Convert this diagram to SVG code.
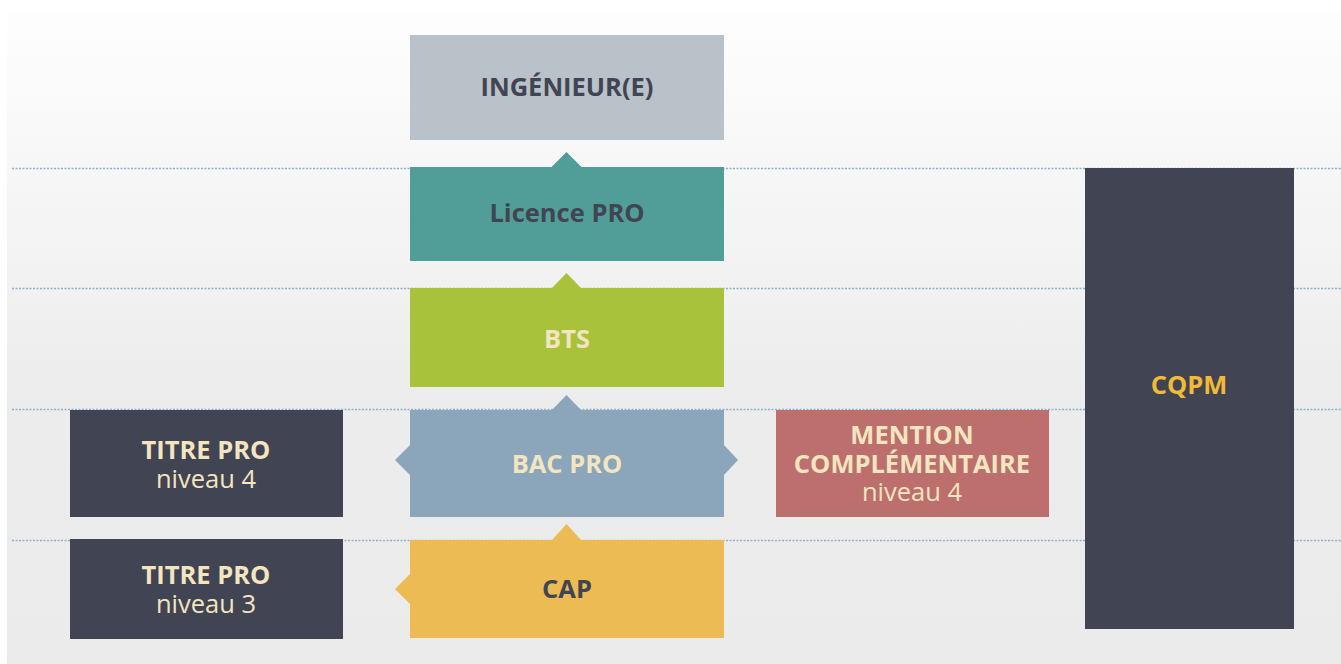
<svg xmlns="http://www.w3.org/2000/svg" width="1341" height="664" viewBox="0 0 1341 664">
<defs>
<linearGradient id="bg" x1="0" y1="0" x2="0" y2="1">
<stop offset="0" stop-color="#fefefe"/>
<stop offset="0.6" stop-color="#ececec"/>
<stop offset="1" stop-color="#ebebeb"/>
</linearGradient>
</defs>
<style>
text{font-family:"Open Sans","Liberation Sans",sans-serif;text-anchor:middle;font-size:25.5px}
.b{font-weight:700}
.r{font-weight:400}
.dark{fill:#414452}
.cream{fill:#f3e5c0}
.gold{fill:#f2ba36}
.grid{stroke:#8eaecb;stroke-width:1.3;stroke-dasharray:2 1.5;fill:none}
</style>
<rect x="0" y="0" width="1341" height="664" fill="#ffffff"/>
<rect x="7" y="10" width="1334" height="654" fill="url(#bg)"/>
<g id="connectors">
<line class="grid" x1="12" y1="168.5" x2="1341" y2="168.5"/>
<line class="grid" x1="12" y1="288.5" x2="1341" y2="288.5"/>
<line class="grid" x1="12" y1="409.5" x2="1341" y2="409.5"/>
<line class="grid" x1="12" y1="540.5" x2="1341" y2="540.5"/>
</g>
<g id="ingenieur">
<rect x="410" y="35" width="314" height="105" fill="#b9c1c9"/>
<text class="b dark" x="567" y="96">INGÉNIEUR(E)</text>
</g>
<g id="licence">
<polygon points="410,167 551.5,167 566.5,152 581.5,167 724,167 724,261 410,261" fill="#509e97"/>
<text class="b dark" x="567" y="222">Licence PRO</text>
</g>
<g id="bts">
<polygon points="410,288 552,288 566.5,273 581,288 724,288 724,387 410,387" fill="#a8c23c"/>
<text class="b cream" x="567" y="348">BTS</text>
</g>
<g id="bacpro">
<polygon points="410,410 552,410 566.5,395 581,410 724,410 724,445 738,460 724,475 724,517 410,517 410,475 395,460 410,445" fill="#8ba6ba"/>
<text class="b cream" x="567" y="473">BAC PRO</text>
</g>
<g id="cap">
<polygon points="410,540 552,540 566.5,524 581,540 724,540 724,638 410,638 410,604 395,589 410,574" fill="#ecbb53"/>
<text class="b dark" x="567" y="598">CAP</text>
</g>
<g id="titre4">
<rect x="70" y="410" width="273" height="107" fill="#414452"/>
<text class="b cream" x="206" y="459">TITRE PRO</text>
<text class="r cream" x="206" y="488">niveau 4</text>
</g>
<g id="titre3">
<rect x="70" y="539" width="273" height="100" fill="#414452"/>
<text class="b cream" x="206" y="584">TITRE PRO</text>
<text class="r cream" x="206" y="613">niveau 3</text>
</g>
<g id="mention">
<rect x="776" y="410" width="273" height="107" fill="#bd6f6d"/>
<text class="b cream" x="912" y="444">MENTION</text>
<text class="b cream" x="912" y="473">COMPLÉMENTAIRE</text>
<text class="r cream" x="912" y="501">niveau 4</text>
</g>
<g id="cqpm">
<rect x="1085" y="168" width="209" height="461" fill="#414452"/>
<text class="b gold" x="1189" y="394">CQPM</text>
</g>
</svg>
